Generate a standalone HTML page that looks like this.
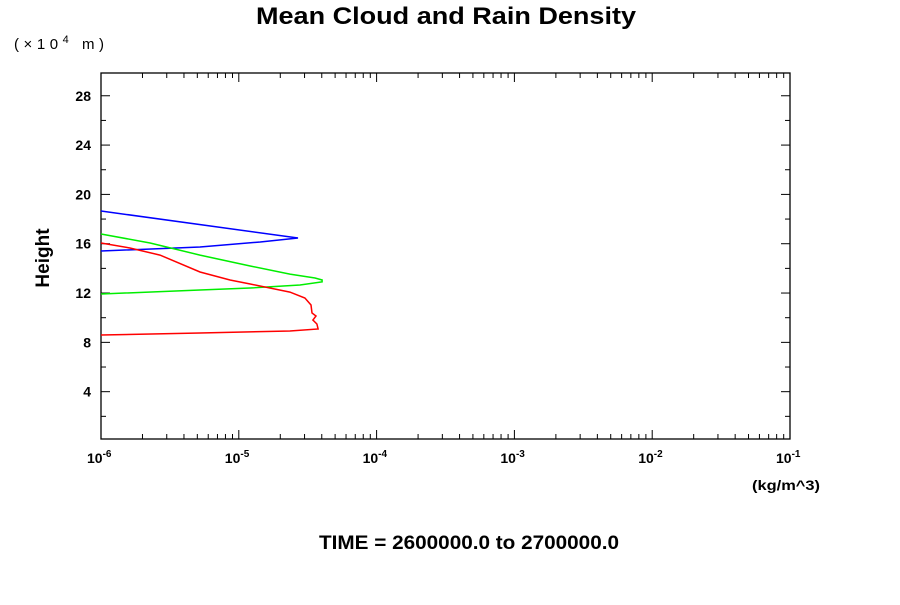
<!DOCTYPE html>
<html><head><meta charset="utf-8"><style>
body{margin:0;background:#fff;}
svg text{font-family:"Liberation Sans",sans-serif;}
</style></head><body>
<svg width="900" height="600" viewBox="0 0 900 600" xmlns="http://www.w3.org/2000/svg">
<text x="256" y="24" font-size="24" font-weight="bold" textLength="380" lengthAdjust="spacingAndGlyphs">Mean Cloud and Rain Density</text>
<text x="14" y="49" font-size="15" textLength="90" lengthAdjust="spacing">(×10<tspan dy="-6" font-size="11">4</tspan><tspan dy="6"> m)</tspan></text>
<text x="49" y="258" text-anchor="middle" font-size="19" font-weight="bold" transform="rotate(-90 49 258)">Height</text>
<text x="752" y="490" font-size="14" font-weight="bold" textLength="68" lengthAdjust="spacingAndGlyphs">(kg/m^3)</text>
<text x="319" y="549" font-size="19" font-weight="bold" textLength="300" lengthAdjust="spacingAndGlyphs">TIME = 2600000.0 to 2700000.0</text>
<rect x="101" y="73" width="689" height="366" fill="none" stroke="#000" stroke-width="1.3"/>
<g id="axes"></g>
<g id="series"></g>
</svg>
<script>
const yTicks=[4,8,12,16,20,24,28];
const xDecades=[-6,-5,-4,-3,-2,-1];
const blueX=[1e-6,2.69e-5,1.43e-5,5.23e-6,1e-6];
const blueY=[18.65,16.46,16.14,15.73,15.41];
const greenX=[1e-6,2.27e-6,5.23e-6,1.21e-5,2.35e-5,3.57e-5,4.02e-5,4.02e-5,2.78e-5,1.21e-5,5.23e-6,1e-6];
const greenY=[16.79,16.06,15.08,14.19,13.54,13.22,13.06,12.9,12.65,12.41,12.25,11.92];
const redX=[1e-6,1.62e-6,2.68e-6,5.23e-6,8.63e-6,1.21e-5,2.35e-5,3.02e-5,3.34e-5,3.40e-5,3.63e-5,3.45e-5,3.69e-5,3.76e-5,2.35e-5,5.23e-6,1e-6];
const redY=[16.06,15.65,15.08,13.71,13.06,12.73,12.08,11.6,11.03,10.38,10.14,9.81,9.49,9.08,8.92,8.76,8.6];
const NS='http://www.w3.org/2000/svg';
const X0=101,XD=137.8,Y0=441,YU=12.33,TOP=73,BOT=439,RIGHT=790;
function xs(v){return X0+XD*(Math.log10(v)+6);}
function ys(h){return Y0-YU*h;}
const axes=document.getElementById('axes');
function line(x1,y1,x2,y2,name){const l=document.createElementNS(NS,'line');l.setAttribute('x1',x1);l.setAttribute('y1',y1);l.setAttribute('x2',x2);l.setAttribute('y2',y2);l.setAttribute('stroke','#000');l.setAttribute('stroke-width','1');


axes.appendChild(l);}
function txt(x,y,s,anchor,name){const t=document.createElementNS(NS,'text');t.setAttribute('x',x);t.setAttribute('y',y);t.setAttribute('font-size','14');t.setAttribute('font-weight','bold');t.setAttribute('text-anchor',anchor);t.innerHTML=s;


axes.appendChild(t);return t;}
for(let h=2;h<=28;h+=2){const y=ys(h);const L=(h%4===0)?9:5;line(X0,y,X0+L,y,'y-tick');line(RIGHT,y,RIGHT-L,y,'y-tick-right');}
yTicks.forEach(h=>txt(X0-10,ys(h)+5,h,'end','y-tick-label'));
xDecades.forEach(d=>{const x=X0+XD*(d+6);line(x,BOT,x,BOT-9,'x-tick');line(x,TOP,x,TOP+9,'x-tick-top');
 txt(x-14,463,'10<tspan dy="-6" font-size="10">'+d+'</tspan>','start','x-tick-label');
 if(d<-1){for(let m=2;m<=9;m++){const xm=x+XD*Math.log10(m);line(xm,BOT,xm,BOT-5,'x-minor-tick');line(xm,TOP,xm,TOP+5,'x-minor-tick-top');}}});
const ser=document.getElementById('series');
function draw(X,Y,color,name){const p=document.createElementNS(NS,'polyline');p.setAttribute('points',X.map((v,i)=>xs(v).toFixed(1)+','+ys(Y[i]).toFixed(1)).join(' '));p.setAttribute('fill','none');p.setAttribute('stroke',color);p.setAttribute('stroke-width','1.5');


ser.appendChild(p);}
draw(blueX,blueY,'#0000ff','blue-density-line');
draw(greenX,greenY,'#00ee00','green-density-line');
draw(redX,redY,'#ff0000','red-density-line');
</script>
</body></html>
